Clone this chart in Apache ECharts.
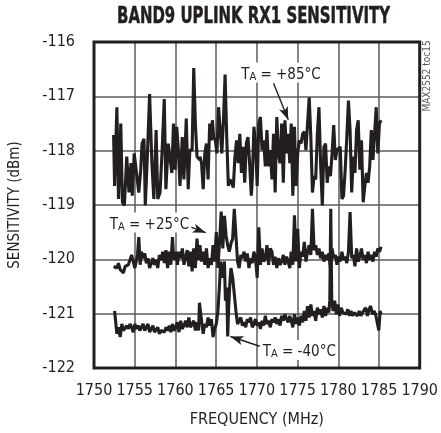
<!DOCTYPE html>
<html><head><meta charset="utf-8">
<script src="https://cdn.jsdelivr.net/npm/echarts@6/dist/echarts.min.js"></script>
<style>html,body{margin:0;padding:0;background:#fff}#c{width:441px;height:433px}</style>
</head><body><div id="c"></div>
<script>
const FONT = "'DejaVu Sans Condensed','Liberation Sans Narrow','Arial Narrow','Liberation Sans',sans-serif";
const titleText = 'BAND9 UPLINK RX1 SENSITIVITY';
const xName = 'FREQUENCY (MHz)';
const yName = 'SENSITIVITY (dBm)';
const stamp = 'MAX2552 toc15';
const xRange = [1750, 1790, 5];
const yRange = [-122, -116, 1];

// TA = +85°C  [MHz, dBm]
const ta85 = [
[1752.41,-117.71],[1752.53,-118.65],[1752.81,-117.20],[1753.01,-118.89],[1753.29,-117.50],[1753.49,-118.95],
[1753.73,-119.01],[1754.02,-118.11],[1754.30,-118.77],[1754.54,-118.23],[1754.70,-118.83],[1754.94,-118.05],
[1755.22,-118.41],[1755.50,-118.77],[1755.74,-118.35],[1755.90,-117.87],[1756.14,-117.78],[1756.30,-119.01],
[1756.55,-118.11],[1756.83,-116.96],[1757.11,-118.23],[1757.35,-118.89],[1757.63,-117.62],[1757.83,-118.89],
[1758.11,-118.77],[1758.35,-118.05],[1758.63,-117.05],[1758.83,-118.71],[1759.12,-117.87],[1759.36,-117.87],
[1759.56,-118.41],[1759.76,-117.50],[1759.96,-118.35],[1760.16,-117.56],[1760.36,-117.99],[1760.56,-118.65],
[1760.84,-117.75],[1761.04,-118.53],[1761.33,-117.41],[1761.57,-118.71],[1761.77,-117.99],[1762.05,-117.99],
[1762.25,-116.48],[1762.45,-117.50],[1762.65,-118.11],[1762.97,-118.17],
[1763.01,-118.11],[1763.21,-118.23],[1763.41,-118.71],[1763.61,-118.05],[1763.81,-117.87],[1764.01,-118.53],
[1764.21,-117.50],[1764.42,-117.81],[1764.54,-117.44],[1764.70,-117.75],[1764.90,-117.81],[1765.10,-118.05],
[1765.30,-117.20],[1765.50,-117.62],[1765.70,-118.05],[1765.90,-117.44],[1766.10,-116.60],[1766.30,-117.75],
[1766.50,-118.65],[1766.70,-118.53],[1766.91,-118.59],[1767.11,-118.68],[1767.31,-118.11],[1767.51,-117.81],
[1767.71,-118.23],[1767.91,-117.69],[1768.11,-118.41],[1768.31,-117.93],[1768.51,-118.59],[1768.71,-117.87],
[1768.91,-117.75],[1769.11,-118.23],[1769.32,-118.83],[1769.44,-118.53],[1769.64,-117.56],[1769.84,-117.87],
[1770.04,-118.65],[1770.24,-117.50],[1770.44,-117.38],[1770.64,-117.99],[1770.84,-117.81],[1771.04,-118.29],
[1771.24,-117.62],[1771.44,-118.29],[1771.65,-117.99],[1771.85,-118.53],[1772.05,-117.69],[1772.25,-118.77],
[1772.45,-117.38],[1772.65,-118.05],[1772.85,-118.23],[1773.05,-117.50],[1773.25,-118.59],[1773.45,-117.44],
[1773.65,-118.05],[1773.85,-117.69],[1774.05,-118.23],
[1774.22,-117.50],[1774.42,-118.83],[1774.62,-117.56],[1774.82,-118.65],[1775.02,-118.05],[1775.22,-117.81],
[1775.42,-117.87],[1775.63,-117.69],[1775.83,-117.65],[1776.03,-117.99],[1776.23,-117.50],[1776.43,-117.02],
[1776.63,-117.75],[1776.83,-118.77],[1777.03,-118.47],[1777.23,-118.53],[1777.43,-117.69],[1777.63,-117.20],
[1777.83,-118.23],[1778.04,-119.01],[1778.24,-117.93],[1778.44,-117.87],[1778.64,-118.59],[1778.84,-118.29],
[1779.04,-118.47],[1779.24,-118.05],[1779.44,-117.53],[1779.64,-118.17],[1779.84,-117.99],[1780.04,-117.99],
[1780.24,-117.93],[1780.45,-118.89],[1780.65,-118.83],[1780.85,-118.35],[1781.05,-117.75],[1781.25,-117.08],
[1781.45,-117.62],[1781.65,-118.77],[1781.85,-118.11],[1782.05,-118.41],[1782.25,-117.62],[1782.45,-117.44],
[1782.65,-118.35],[1782.85,-117.81],[1783.06,-118.95],[1783.26,-118.65],[1783.46,-118.41],[1783.66,-118.59],
[1783.86,-118.29],[1784.06,-117.62],[1784.26,-118.17],[1784.46,-117.69],[1784.66,-117.20],[1784.86,-118.05],
[1785.06,-117.50],[1785.26,-117.44]
];

// TA = +25°C
const ta25 = [
[1752.41,-120.13],[1752.61,-120.10],[1752.81,-120.16],[1753.01,-120.07],[1753.22,-120.19],[1753.42,-120.22],
[1753.62,-120.25],[1753.82,-120.13],[1754.02,-120.16],[1754.22,-120.10],[1754.42,-120.01],[1754.62,-119.92],
[1754.82,-120.04],[1755.02,-120.16],[1755.22,-120.01],[1755.34,-119.92],[1755.50,-119.59],[1755.67,-120.10],
[1755.83,-119.86],[1756.03,-119.98],[1756.23,-119.89],[1756.43,-120.07],[1756.63,-119.98],[1756.83,-120.16],
[1757.03,-120.07],[1757.23,-119.98],[1757.43,-120.10],[1757.63,-120.01],[1757.83,-120.16],[1758.03,-119.92],
[1758.24,-120.01],[1758.44,-119.86],[1758.64,-120.07],[1758.84,-119.83],[1759.04,-120.16],[1759.24,-119.86],
[1759.44,-120.10],[1759.64,-119.59],[1759.76,-119.92],[1759.92,-120.01],[1760.12,-119.86],[1760.24,-120.10],
[1760.44,-119.86],[1760.65,-119.98],[1760.85,-119.80],[1761.05,-120.10],[1761.25,-120.10],[1761.45,-119.83],
[1761.65,-120.13],[1761.85,-119.86],[1762.05,-120.22],[1762.25,-119.80],[1762.45,-120.16],[1762.65,-119.62],
[1762.85,-120.01],
[1763.01,-119.74],[1763.21,-120.04],[1763.41,-119.86],[1763.61,-120.10],[1763.81,-119.80],[1764.01,-120.16],
[1764.21,-119.98],[1764.42,-120.10],[1764.62,-119.74],[1764.82,-120.04],[1765.02,-119.50],[1765.22,-120.16],
[1765.42,-119.68],[1765.62,-119.12],[1765.82,-119.80],[1766.02,-119.20],[1766.22,-119.56],[1766.42,-119.74],
[1766.62,-119.86],[1766.82,-119.71],[1767.03,-119.62],[1767.23,-119.07],[1767.43,-119.56],[1767.63,-120.04],
[1767.83,-120.16],[1768.03,-119.92],[1768.23,-119.98],[1768.43,-119.86],[1768.63,-120.04],[1768.83,-119.89],
[1769.03,-120.16],[1769.23,-119.98],[1769.44,-120.07],[1769.64,-119.86],[1769.84,-119.98],[1770.04,-120.34],
[1770.24,-119.41],[1770.44,-120.10],[1770.64,-119.80],[1770.84,-120.04],[1771.04,-119.98],[1771.24,-119.74],
[1771.44,-120.10],[1771.65,-119.80],[1771.85,-119.86],[1772.05,-120.10],[1772.25,-119.95],[1772.45,-120.16],
[1772.65,-119.98],[1772.85,-120.10],[1773.05,-120.04],[1773.25,-119.92],[1773.45,-120.10],[1773.65,-119.95],
[1773.85,-120.04],[1774.05,-120.16],
[1774.22,-119.86],[1774.42,-120.10],[1774.62,-119.19],[1774.82,-120.04],[1775.02,-119.44],[1775.22,-120.16],
[1775.42,-119.86],[1775.63,-119.95],[1775.83,-119.68],[1776.03,-120.04],[1776.23,-119.86],[1776.43,-119.74],
[1776.63,-119.92],[1776.83,-119.07],[1777.03,-119.83],[1777.23,-119.74],[1777.43,-119.92],[1777.63,-119.80],
[1777.83,-119.98],[1778.04,-119.86],[1778.24,-120.04],[1778.44,-119.92],[1778.64,-120.01],[1778.84,-119.89],
[1779.04,-120.16],[1779.24,-119.80],[1779.44,-119.98],[1779.64,-119.92],[1779.84,-120.10],[1780.04,-119.95],
[1780.24,-120.04],[1780.45,-119.86],[1780.65,-120.01],[1780.85,-119.95],[1781.05,-120.07],[1781.25,-119.86],
[1781.45,-119.13],[1781.65,-119.98],[1781.85,-119.92],[1782.05,-120.13],[1782.25,-119.80],[1782.45,-120.04],
[1782.65,-119.95],[1782.85,-119.80],[1783.06,-120.01],[1783.26,-119.92],[1783.46,-120.07],[1783.66,-119.86],
[1783.86,-120.01],[1784.06,-119.92],[1784.26,-120.04],[1784.46,-119.86],[1784.66,-119.95],[1784.86,-119.80],
[1785.06,-119.86],[1785.26,-119.77]
];

// TA = -40°C
const taM40 = [
[1752.53,-120.95],[1752.69,-121.19],[1752.81,-121.37],[1753.01,-121.25],[1753.22,-121.43],[1753.42,-121.19],
[1753.62,-121.31],[1753.82,-121.34],[1754.02,-121.22],[1754.22,-121.28],[1754.42,-121.19],[1754.62,-121.25],
[1754.82,-121.34],[1755.02,-121.19],[1755.22,-121.28],[1755.42,-121.22],[1755.63,-121.31],[1755.83,-121.25],
[1756.03,-121.19],[1756.23,-121.31],[1756.43,-121.28],[1756.63,-121.19],[1756.83,-121.34],[1757.03,-121.28],
[1757.23,-121.22],[1757.43,-121.34],[1757.63,-121.31],[1757.83,-121.25],[1758.03,-121.37],[1758.24,-121.31],
[1758.44,-121.28],[1758.64,-121.34],[1758.84,-121.25],[1759.04,-121.31],[1759.24,-121.22],[1759.44,-121.34],
[1759.64,-121.19],[1759.84,-121.31],[1760.04,-121.25],[1760.24,-121.16],[1760.44,-121.34],[1760.65,-121.13],
[1760.85,-121.28],[1761.05,-121.22],[1761.25,-121.13],[1761.45,-121.25],[1761.65,-121.07],[1761.85,-121.25],
[1762.05,-121.22],[1762.25,-121.13],[1762.45,-121.31],[1762.65,-121.16],[1762.85,-121.31],[1762.95,-120.80],
[1763.21,-121.13],[1763.41,-121.37],[1763.61,-121.19],[1763.81,-121.25],[1764.01,-121.07],[1764.21,-121.22],
[1764.42,-121.10],[1764.62,-121.43],[1764.82,-121.28],[1765.02,-121.19],[1765.22,-120.95],[1765.42,-120.46],
[1765.54,-120.04],[1765.70,-120.16],[1765.82,-120.34],[1766.02,-120.04],[1766.14,-120.76],[1766.30,-120.52],
[1766.42,-121.42],[1766.54,-120.89],[1766.70,-120.40],[1766.82,-120.16],[1767.03,-120.34],[1767.23,-120.64],
[1767.43,-120.95],[1767.63,-121.19],[1767.83,-121.22],[1768.03,-121.07],[1768.23,-121.22],[1768.43,-121.16],
[1768.63,-121.25],[1768.83,-121.10],[1769.03,-121.16],[1769.23,-121.07],[1769.44,-121.25],[1769.64,-121.19],
[1769.84,-121.10],[1770.04,-121.22],[1770.24,-121.16],[1770.44,-121.28],[1770.64,-121.13],[1770.84,-121.22],
[1771.04,-121.04],[1771.24,-121.19],[1771.44,-121.13],[1771.65,-121.25],[1771.85,-121.10],[1772.05,-121.16],
[1772.25,-121.07],[1772.45,-121.19],[1772.65,-121.10],[1772.85,-121.22],[1773.05,-121.04],[1773.25,-121.13],
[1773.45,-121.01],[1773.65,-121.10],[1773.85,-121.16],[1774.05,-121.04],
[1774.22,-121.13],[1774.42,-121.25],[1774.62,-121.01],[1774.82,-121.19],[1775.02,-121.07],[1775.22,-121.22],
[1775.42,-121.04],[1775.63,-121.16],[1775.83,-120.95],[1776.03,-121.13],[1776.23,-120.86],[1776.43,-121.07],
[1776.63,-120.83],[1776.83,-121.04],[1777.03,-120.95],[1777.23,-121.13],[1777.43,-120.89],[1777.63,-121.01],
[1777.83,-120.92],[1778.04,-121.07],[1778.24,-120.86],[1778.44,-121.04],[1778.64,-120.89],[1778.84,-120.98],
[1778.96,-120.76],[1779.08,-119.07],[1779.20,-120.76],[1779.36,-120.95],[1779.56,-120.76],[1779.76,-121.01],
[1779.96,-120.83],[1780.16,-121.04],[1780.36,-120.89],[1780.57,-120.98],[1780.77,-120.95],[1780.97,-121.01],
[1781.17,-120.92],[1781.37,-121.04],[1781.57,-120.95],[1781.77,-121.04],[1781.97,-120.98],[1782.17,-121.01],
[1782.37,-121.04],[1782.57,-120.95],[1782.77,-121.04],[1782.97,-120.98],[1783.18,-121.01],[1783.38,-120.89],
[1783.58,-121.04],[1783.78,-120.92],[1783.98,-120.86],[1784.18,-121.01],[1784.38,-120.95],[1784.58,-121.01],
[1784.78,-120.98],[1784.98,-121.31],[1785.14,-120.95],[1785.26,-121.01]
];

// annotation labels: text anchor (left, middle), arrow from -> to
const noteText = ['+85°C', '+25°C', '-40°C'];
const noteAt = [[1767.95,-116.56],[1751.81,-119.32],[1770.60,-121.67]];
const noteFrom = [[1772.05,-116.76],[1760.48,-119.33],[1770.36,-121.60]];
const noteTo = [[1773.86,-117.43],[1763.73,-119.51],[1766.75,-121.42]];

const INK = '#231f20';
const chart = echarts.init(document.getElementById('c'), null, {renderer: 'canvas'});

function mkSeries(data, idx) {
  return {
    type: 'line', data: data, showSymbol: false, symbol: 'none', animation: false,
    lineStyle: {color: INK, width: 3.1}, z: 3,
    markLine: {
      silent: true, animation: false, symbol: ['none', 'arrow'], symbolSize: [7, 13],
      lineStyle: {color: INK, width: 1.4, type: 'solid'}, label: {show: false},
      data: [[{coord: noteFrom[idx]}, {coord: noteTo[idx]}]]
    }
  };
}

chart.setOption({
  animation: false,
  backgroundColor: '#fff',
  grid: {left: 90, right: 19, top: 42, bottom: 60, show: false},
  xAxis: {
    type: 'value', min: xRange[0], max: xRange[1], interval: xRange[2],
    name: xName, nameLocation: 'middle', nameGap: 44,
    nameTextStyle: {fontFamily: FONT, fontSize: 16, color: INK},
    axisLine: {show: false}, axisTick: {show: false},
    axisLabel: {fontFamily: FONT, fontSize: 16, color: INK, margin: 15, hideOverlap: false,
      showMinLabel: true, showMaxLabel: true, formatter: v => String(v)},
    splitLine: {show: true, lineStyle: {color: '#5a5b5d', width: 1.5}}
  },
  yAxis: {
    type: 'value', min: yRange[0], max: yRange[1], interval: yRange[2],
    name: yName, nameLocation: 'middle', nameGap: 71,
    nameTextStyle: {fontFamily: FONT, fontSize: 15, color: INK},
    axisLine: {show: false}, axisTick: {show: false},
    axisLabel: {fontFamily: FONT, fontSize: 16, color: INK, margin: 19, formatter: v => String(v)},
    splitLine: {show: true, lineStyle: {color: '#5a5b5d', width: 1.5}}
  },
  series: [mkSeries(ta85, 0), mkSeries(ta25, 1), mkSeries(taM40, 2)]
});

function textScale(font, text, target) {
  const ctx = document.createElement('canvas').getContext('2d');
  ctx.font = font;
  const w = ctx.measureText(text).width;
  return w > 0 ? target / w : 1;
}

function drawOverlay() {
  const tl = chart.convertToPixel({gridIndex: 0}, [xRange[0], yRange[1]]);
  const br = chart.convertToPixel({gridIndex: 0}, [xRange[1], yRange[0]]);
  const g = [{
    type: 'rect', z: 20, silent: true,
    shape: {x: tl[0], y: tl[1], width: br[0] - tl[0], height: br[1] - tl[1]},
    style: {fill: 'none', stroke: INK, lineWidth: 3}
  }];
  const titleFont = "bold 23px " + FONT;
  const sx = textScale(titleFont, titleText, 273);
  g.push({
    type: 'text', z: 15, silent: true, x: 253.5, y: 17, scaleX: sx,
    style: {text: titleText, fontFamily: FONT, fontSize: 23, fontWeight: 'bold', fill: INK,
      align: 'center', verticalAlign: 'middle', stroke: INK, lineWidth: 0.5}
  });
  noteText.forEach((t, i) => {
    const p = chart.convertToPixel({gridIndex: 0}, noteAt[i]);
    g.push({
      type: 'text', z: 15, silent: true, x: p[0], y: p[1],
      style: {
        text: '{t|T}{s|A}{t| = ' + t + '}',
        verticalAlign: 'middle', align: 'left',
        backgroundColor: '#fff', padding: [0, 2, 0, 1],
        rich: {
          t: {fontFamily: FONT, fontSize: 15, fill: INK, lineHeight: 20, verticalAlign: 'bottom'},
          s: {fontFamily: FONT, fontSize: 11, fill: INK, lineHeight: 11, verticalAlign: 'bottom'}
        }
      }
    });
  });
  g.push({
    type: 'text', z: 15, silent: true, x: 432, y: 76, rotation: Math.PI / 2,
    style: {text: stamp, fontFamily: FONT, fontSize: 10, fill: '#58595b', align: 'center', verticalAlign: 'bottom'}
  });
  chart.setOption({graphic: g});
}
drawOverlay();
</script>
</body></html>
